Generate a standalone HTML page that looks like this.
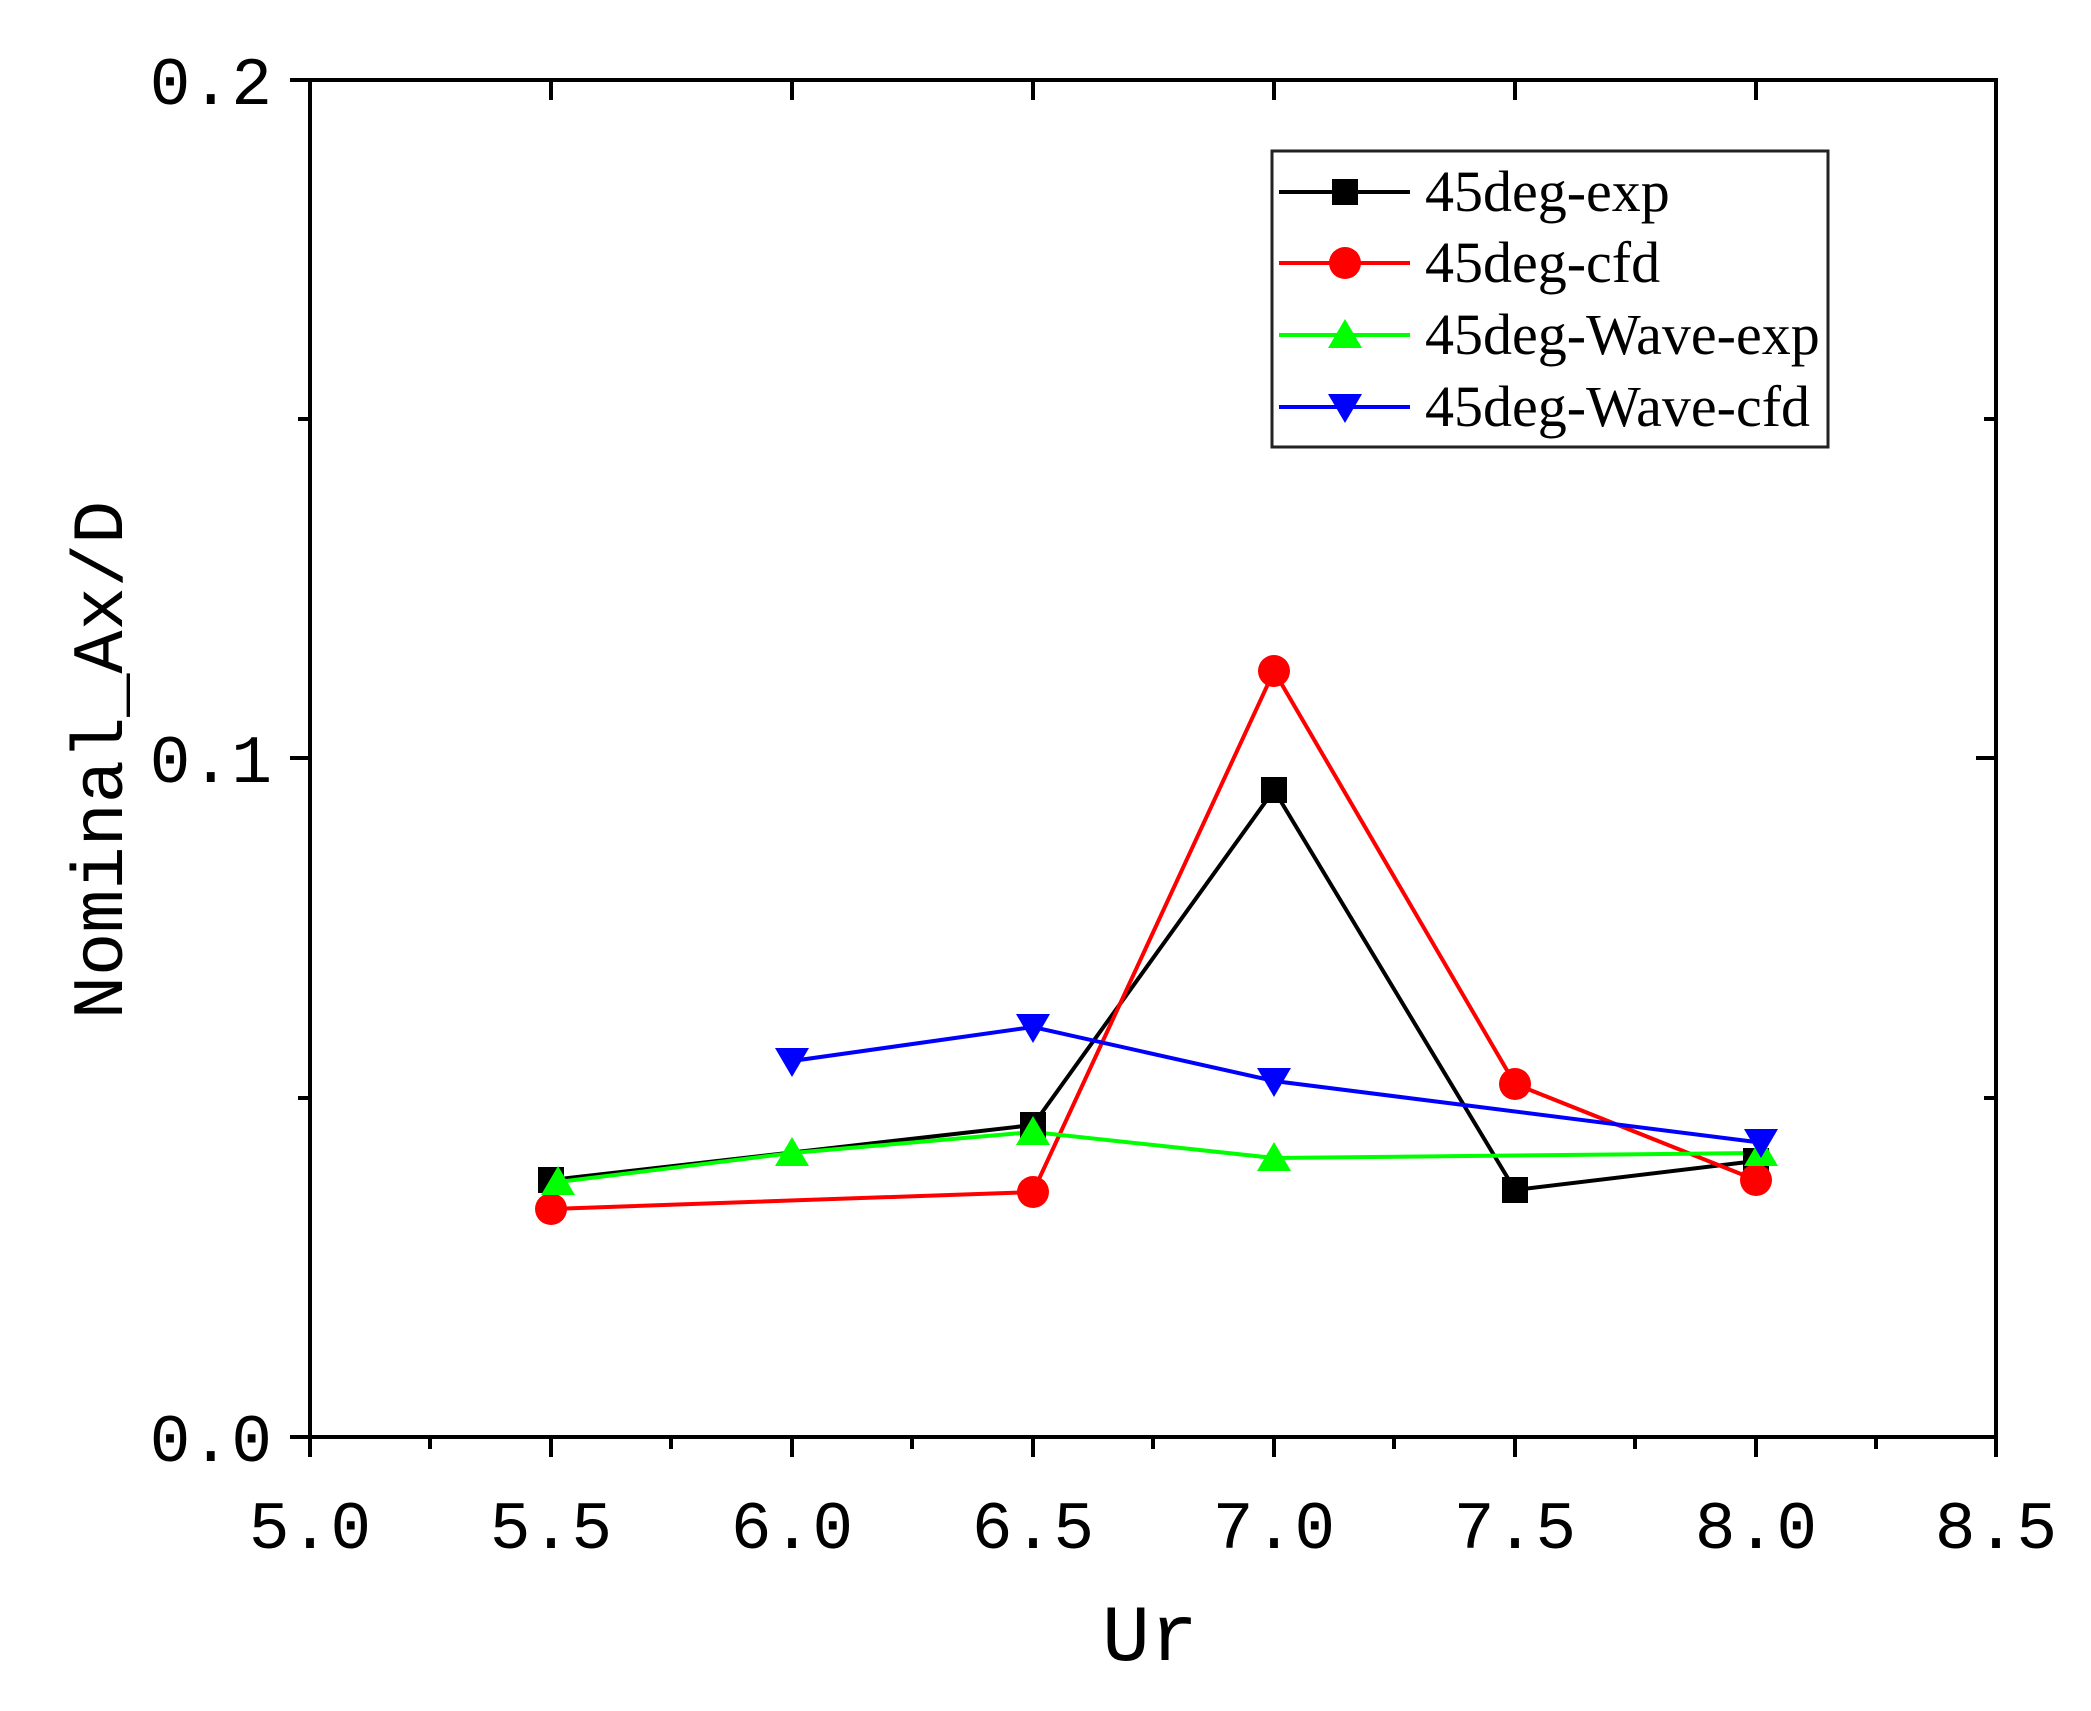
<!DOCTYPE html>
<html><head><style>body{margin:0;background:#fff}svg{display:block}</style></head><body>
<svg width="2091" height="1711" xmlns="http://www.w3.org/2000/svg">
<g stroke="#000" stroke-width="4" fill="none">
<rect x="310" y="80" width="1686" height="1357"/>
<path d="M310 1437v20M551 1437v20M792 1437v20M1033 1437v20M1274 1437v20M1515 1437v20M1756 1437v20M1996 1437v20"/>
<path d="M430 1437v12M671 1437v12M912 1437v12M1153 1437v12M1394 1437v12M1635 1437v12M1876 1437v12"/>
<path d="M551 80v20M792 80v20M1033 80v20M1274 80v20M1515 80v20M1756 80v20"/>
<path d="M290 80h20M290 758h20M290 1437h20M298 419h12M298 1098h12"/>
<path d="M1996 758h-20M1996 419h-12M1996 1098h-12"/>
</g>
<g font-family="Liberation Mono, monospace" font-size="68" fill="#000">
<g text-anchor="middle">
<text x="310" y="1548">5.0</text><text x="551" y="1548">5.5</text><text x="792" y="1548">6.0</text>
<text x="1033" y="1548">6.5</text><text x="1274" y="1548">7.0</text><text x="1515" y="1548">7.5</text>
<text x="1756" y="1548">8.0</text><text x="1996" y="1548">8.5</text>
</g>
<g text-anchor="end">
<text x="272" y="104">0.2</text><text x="272" y="782">0.1</text><text x="272" y="1461">0.0</text>
</g>
<text transform="translate(122,760) rotate(-90)" text-anchor="middle" font-size="72">Nominal_Ax/D</text>
<text x="1150" y="1660" text-anchor="middle" font-size="80">Ur</text>
</g>
<g stroke-width="4" fill="none">
<polyline stroke="#000" points="551,1180 1033,1125 1274,790 1515,1190 1756,1161"/>
<polyline stroke="#f00" points="551,1209 1033,1192 1274,671 1515,1084 1756,1180"/>
<polyline stroke="#0f0" points="558,1182 792,1153 1033,1132 1274,1158 1756,1153"/>
<polyline stroke="#00f" points="792,1061 1033,1027 1274,1081 1756,1142"/>
</g>
<g fill="#000"><rect x="538" y="1167" width="26" height="26"/><rect x="1020" y="1112" width="26" height="26"/><rect x="1261" y="777" width="26" height="26"/><rect x="1502" y="1177" width="26" height="26"/><rect x="1743" y="1148" width="26" height="26"/></g>
<g fill="#f00"><circle cx="551" cy="1209" r="16"/><circle cx="1033" cy="1192" r="16"/><circle cx="1274" cy="671" r="16"/><circle cx="1515" cy="1084" r="16"/><circle cx="1756" cy="1180" r="16"/></g>
<g fill="#0f0"><path d="M558 1166l17 29h-34z"/><path d="M792 1137l17 29h-34z"/><path d="M1033 1116l17 29h-34z"/><path d="M1274 1142l17 29h-34z"/><path d="M1761 1137l17 29h-34z"/></g>
<g fill="#00f"><path d="M792 1077l17 -29h-34z"/><path d="M1033 1043l17 -29h-34z"/><path d="M1274 1097l17 -29h-34z"/><path d="M1761 1158l17 -29h-34z"/></g>
<rect x="1272" y="151" width="556" height="296" fill="#fff" stroke="#222" stroke-width="3"/>
<g stroke-width="4">
<path d="M1279 192h131" stroke="#000"/><rect x="1332" y="179" width="26" height="26" fill="#000"/>
<path d="M1279 263h131" stroke="#f00"/><circle cx="1345" cy="263" r="16" fill="#f00"/>
<path d="M1279 335h131" stroke="#0f0"/><path d="M1345 319l17 29h-34z" fill="#0f0"/>
<path d="M1279 407h131" stroke="#00f"/><path d="M1345 423l17 -29h-34z" fill="#00f"/>
</g>
<g font-family="Liberation Serif, serif" font-size="58" fill="#000">
<text x="1425" y="211">45deg-exp</text><text x="1425" y="282">45deg-cfd</text>
<text x="1425" y="354">45deg-Wave-exp</text><text x="1425" y="426">45deg-Wave-cfd</text>
</g>
</svg>
</body></html>
